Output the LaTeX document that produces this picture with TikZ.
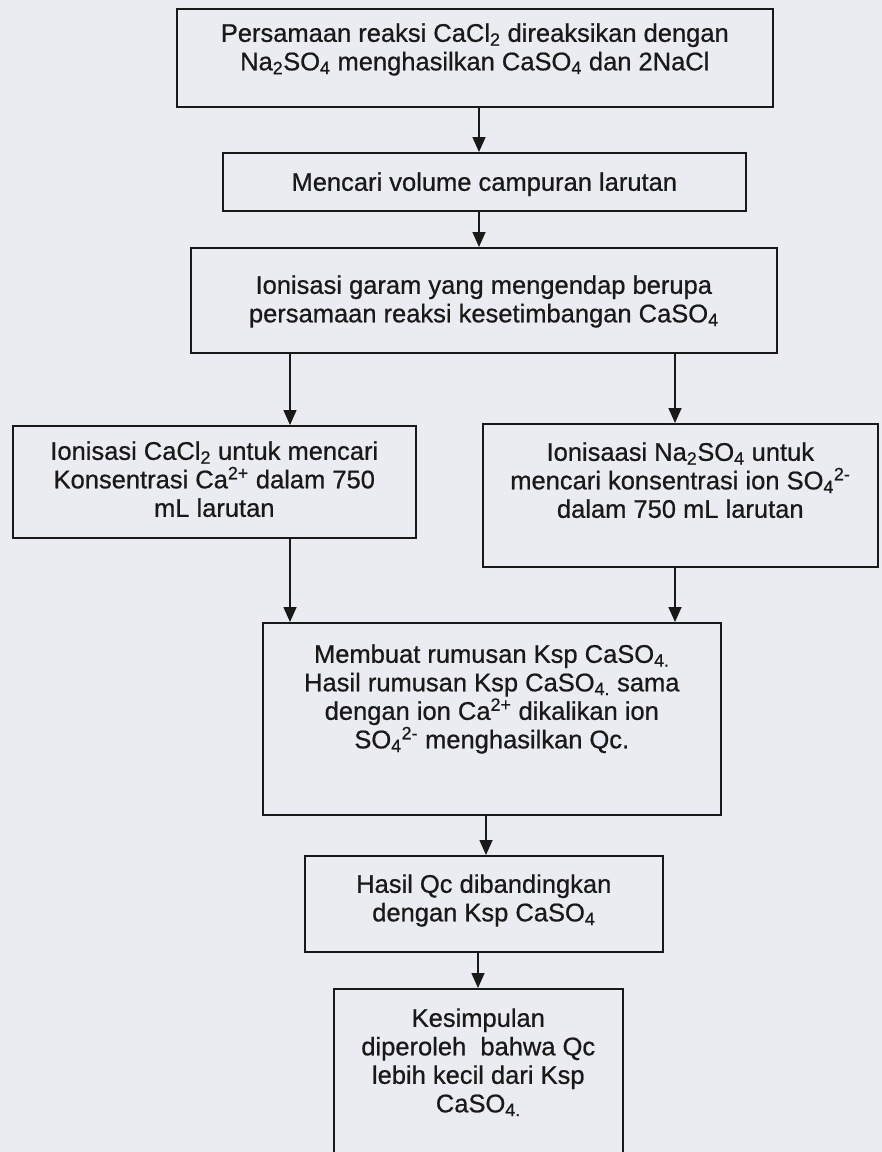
\documentclass[tikz,border=0pt]{standalone}
\usepackage{fontspec}
\setmainfont{Liberation Sans}[BoldFont={Liberation Sans},BoldFeatures={FakeBold=0.7}]
\usetikzlibrary{arrows.meta}
\definecolor{paper}{RGB}{235,236,241}
\definecolor{ink}{RGB}{25,25,25}
\newcommand{\bxt}[4]{\parbox[t][#2pt][t]{#1pt}{\centering\bfseries\fontsize{25.5}{28.5}\selectfont\rule{0pt}{#3pt}#4\par}}
\newcommand{\sub}[1]{\textsubscript{#1}}
\newcommand{\sups}[1]{\textsuperscript{#1}}
\begin{document}
\begin{tikzpicture}[x=1pt,y=-1pt,
  flowbox/.style={draw=ink,line width=1.6pt,inner sep=0pt,anchor=north west,text=ink},
  arr/.style={draw=ink,line width=1.6pt,-{Triangle[width=13pt,length=15pt]}}]
\useasboundingbox (0,0) rectangle (882,1152);
\clip (0,0) rectangle (882,1152);
\fill[paper] (0,0) rectangle (882,1152);
\node[flowbox] (b1) at (176,8) {\bxt{596}{98}{33}{Persamaan reaksi CaCl\sub{2} direaksikan dengan\\Na\sub{2}SO\sub{4} menghasilkan CaSO\sub{4} dan 2NaCl}};
\node[flowbox] (b2) at (222,152) {\bxt{523}{58}{38}{Mencari volume campuran larutan}};
\node[flowbox] (b3) at (190,247) {\bxt{586}{105}{46}{Ionisasi garam yang mengendap berupa\\persamaan reaksi kesetimbangan CaSO\sub{4}}};
\node[flowbox] (bl) at (12,425) {\bxt{403}{112}{34}{Ionisasi CaCl\sub{2} untuk mencari\\Konsentrasi Ca\sups{2+} dalam 750\\mL larutan}};
\node[flowbox] (br) at (482,423) {\bxt{395}{143}{37}{Ionisaasi Na\sub{2}SO\sub{4} untuk\\mencari konsentrasi ion SO\sub{4}\sups{2-}\\dalam 750 mL larutan}};
\node[flowbox] (bm) at (262,622) {\bxt{458}{192}{40}{Membuat rumusan Ksp CaSO\sub{4.}\\Hasil rumusan Ksp CaSO\sub{4.} sama\\dengan ion Ca\sups{2+} dikalikan ion\\SO\sub{4}\sups{2-} menghasilkan Qc.}};
\node[flowbox] (bh) at (304,855) {\bxt{358}{96}{37}{Hasil Qc dibandingkan\\dengan Ksp CaSO\sub{4}}};
\node[flowbox] (bk) at (333,988) {\bxt{289}{200}{38}{Kesimpulan\\diperoleh\ \ bahwa Qc\\lebih kecil dari Ksp\\CaSO\sub{4.}}};
\coordinate (xa) at (479,0);
\coordinate (xl) at (290,0);
\coordinate (xr) at (675,0);
\coordinate (xm) at (486,0);
\coordinate (xh) at (478,0);
\draw[arr] (b1.south -| xa) -- (b2.north -| xa);
\draw[arr] (b2.south -| xa) -- (b3.north -| xa);
\draw[arr] (b3.south -| xl) -- (bl.north -| xl);
\draw[arr] (b3.south -| xr) -- (br.north -| xr);
\draw[arr] (bl.south -| xl) -- (bm.north -| xl);
\draw[arr] (br.south -| xr) -- (bm.north -| xr);
\draw[arr] (bm.south -| xm) -- (bh.north -| xm);
\draw[arr] (bh.south -| xh) -- (bk.north -| xh);
\end{tikzpicture}
\end{document}
